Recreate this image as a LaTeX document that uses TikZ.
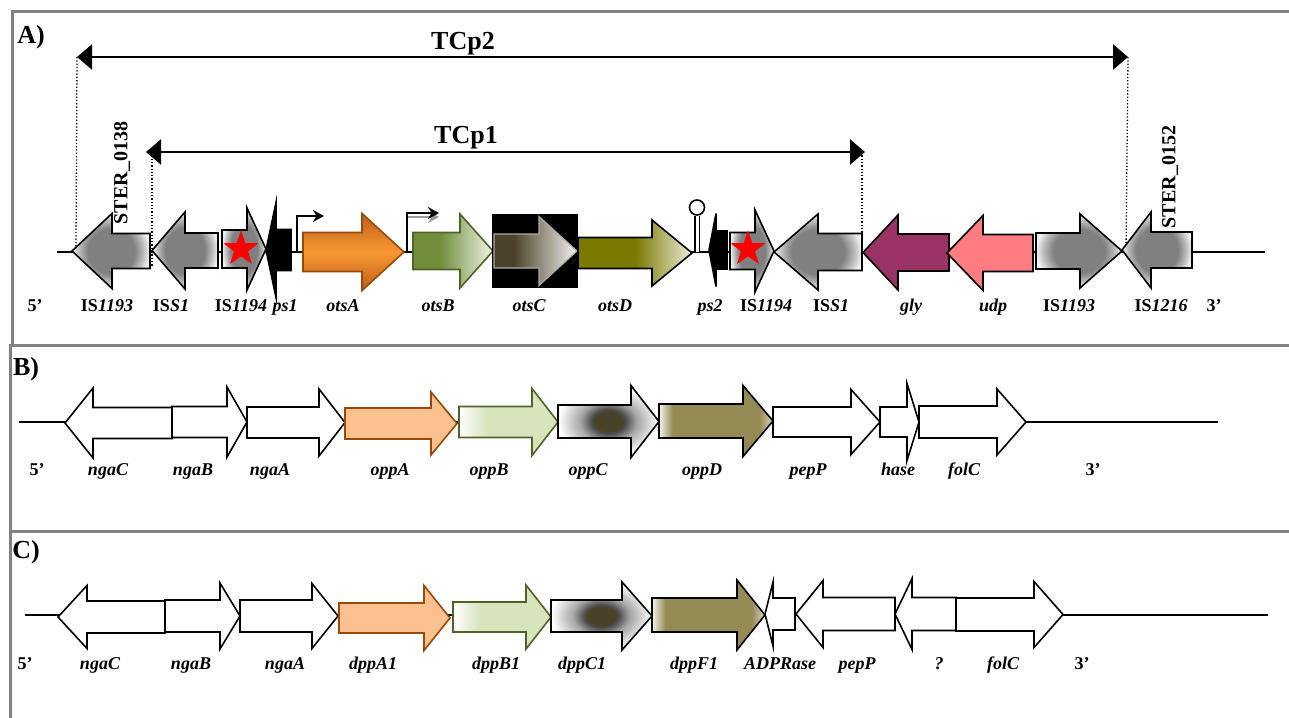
\documentclass[tikz,border=0pt]{standalone}
\usepackage{fontspec}
\setmainfont{Liberation Serif}
\usepackage{xcolor}
\definecolor{framegray}{RGB}{130,130,130}
\definecolor{isgray}{RGB}{128,128,128}
\definecolor{otsadark}{RGB}{190,95,22}
\definecolor{otsabright}{RGB}{248,152,50}
\definecolor{otsaborder}{RGB}{152,72,7}
\definecolor{otsbdark}{RGB}{112,142,58}
\definecolor{otsblight}{RGB}{240,244,232}
\definecolor{otsbborder}{RGB}{79,98,40}
\definecolor{otscdark}{RGB}{75,67,41}
\definecolor{otsclight}{RGB}{242,242,238}
\definecolor{otscborder}{RGB}{170,170,170}
\definecolor{otsdolive}{RGB}{122,122,0}
\definecolor{otsdlight}{RGB}{236,236,216}
\definecolor{glypurple}{RGB}{153,51,102}
\definecolor{udppink}{RGB}{255,124,128}
\definecolor{oppaorange}{RGB}{250,192,144}
\definecolor{oppbgreen}{RGB}{215,228,188}
\definecolor{oppccore}{RGB}{74,66,40}
\definecolor{oppdolive}{RGB}{148,138,84}
\usepackage{tikz}
\usetikzlibrary{arrows.meta,shapes.geometric}

% shadings for the gene arrows
\pgfdeclareradialshading{isshade}{\pgfpointorigin}{color(0bp)=(isgray); color(15bp)=(isgray); color(21bp)=(isgray!50!white); color(25bp)=(isgray!10!white); color(50bp)=(isgray!10!white)}
\pgfdeclareradialshading{oppcshade}{\pgfpointorigin}{color(0bp)=(oppccore); color(7bp)=(oppccore); color(8.5bp)=(isgray!60!black); color(14bp)=(isgray!70!white); color(25bp)=(white); color(50bp)=(white)}
\pgfdeclarehorizontalshading{otsbshade}{100bp}{color(0bp)=(otsbdark); color(42bp)=(otsbdark); color(75bp)=(otsblight); color(100bp)=(otsblight)}
\pgfdeclarehorizontalshading{otscshade}{100bp}{color(0bp)=(otscdark); color(37bp)=(otscdark); color(75bp)=(otsclight); color(100bp)=(otsclight)}
\pgfdeclarehorizontalshading{otsdshade}{100bp}{color(0bp)=(otsdolive); color(50bp)=(otsdolive); color(75bp)=(otsdlight); color(100bp)=(otsdlight)}
\pgfdeclarehorizontalshading{oppbshade}{100bp}{color(0bp)=(white); color(25bp)=(white); color(39bp)=(oppbgreen); color(100bp)=(oppbgreen)}
\pgfdeclarehorizontalshading{oppdshade}{100bp}{color(0bp)=(white); color(25bp)=(oppdolive!10!white); color(31bp)=(oppdolive); color(69bp)=(oppdolive); color(75bp)=(oppdolive!35!white); color(100bp)=(oppdolive!35!white)}

% gene arrow: tail x, head base x, tip x, centre y, half body, half head
\newcommand{\genearrow}[7][]{%
  \draw[gene,#1] (#2,#5-#6) -- (#3,#5-#6) -- (#3,#5-#7) -- (#4,#5) -- (#3,#5+#7) -- (#3,#5+#6) -- (#2,#5+#6) -- cycle;}

\begin{document}
\begin{tikzpicture}[x=1pt, y=-1pt,
  gene/.style={draw=black, line width=1.6pt, line join=miter},
  lbl/.style={font=\fontsize{18}{20}\selectfont\bfseries\itshape, anchor=base, inner sep=0pt},
  title/.style={font=\fontsize{26}{28}\selectfont\bfseries, inner sep=0pt},
  ster/.style={font=\fontsize{20}{22}\selectfont\bfseries, rotate=90, inner sep=0pt},
  panel/.style={draw=framegray, line width=3pt},
  backbone/.style={line width=2pt},
  span/.style={line width=2.2pt, {Triangle[length=15pt,width=25pt]}-{Triangle[length=15pt,width=25pt]}},
  guide/.style={dotted, line width=1.3pt},
  prom/.style={line width=2pt, -{Stealth[length=11pt,width=12pt]}},
  redstar/.style={star, star points=5, star point ratio=2.5, fill=red, minimum size=37pt, inner sep=0pt}]
  \useasboundingbox (0,0) rectangle (1289,717);

  % Frames
  \draw[panel] (12,345) -- (12,12) -- (1300,12);
  \draw[panel] (1300,345) -- (10,345) -- (10,531) -- (1300,531);
  \draw[panel] (10,531) -- (10,720);

  % Panel A
  \node[title] (ttlA) at (31,37) {A)};
  \draw[backbone] (57,252) -- (1265,252);

  \coordinate (tcp2L) at (77,57);
  \coordinate (tcp2R) at (1128,57);
  \coordinate (tcp1L) at (146,152);
  \coordinate (tcp1R) at (865,152);
  \draw[span] (tcp2L) -- (tcp2R);
  \draw[span] (tcp1L) -- (tcp1R);
  \node[title] (tcp2) at (463,44) {TCp2};
  \node[title] (tcp1) at (466,138) {TCp1};
  \coordinate (g2L) at (76,248);
  \coordinate (g2R) at (1126,250);
  \coordinate (g1L) at (152,267);
  \coordinate (g1R) at (862,233);
  \draw[guide] (tcp2L) -- (g2L);
  \draw[guide] (tcp2R) -- (g2R);
  \draw[guide] ([xshift=6pt]tcp1L) -- (g1L);
  \draw[guide] ([xshift=-3pt]tcp1R) -- (g1R);

  \genearrow[shade, shading=isshade]{150}{112}{72}{251}{17.5}{37.5}
  \genearrow[shade, shading=isshade]{218}{185}{152}{250.5}{17.5}{38.5}
  \genearrow[shade, shading=isshade]{222}{247}{266}{249}{19}{41}
  \node[redstar] (star1) at (241,249) {};
  \genearrow[fill=black]{291}{276}{266}{250}{20.5}{47.5}
  \genearrow[draw=otsaborder, shade, top color=otsadark, bottom color=otsadark, middle color=otsabright]{303}{362}{404}{252}{19.5}{38.5}
  \genearrow[draw=otsbborder, shade, shading=otsbshade]{413}{460}{493}{251}{18.5}{37}
  \fill[black] (492,214) rectangle (578,288);
  \genearrow[draw=otscborder, line width=1.2pt, shade, shading=otscshade]{494}{539}{577}{251}{17}{34.5}
  \genearrow[shade, shading=otsdshade]{578}{652}{692}{253}{15.5}{33}
  \genearrow[fill=black]{727}{716}{709}{250}{19}{36.5}
  \genearrow[shade, shading=isshade]{730}{755}{774}{251}{18.5}{41}
  \node[redstar] (star2) at (748,249) {};
  \genearrow[shade, shading=isshade]{862}{818}{774}{252}{18.5}{38}
  \genearrow[fill=glypurple]{949}{898}{863}{252.5}{18.5}{37.5}
  \genearrow[fill=udppink]{1033}{983}{947}{253}{18.5}{37.5}
  \genearrow[shade, shading=isshade]{1036}{1080}{1122}{251}{18}{37}
  \genearrow[shade, shading=isshade]{1192}{1151}{1122}{250}{18}{38}

  % promoters and terminator
  \coordinate (p1a) at (297,252);
  \coordinate (p1b) at (324,216);
  \draw[prom] (p1a) |- (p1b);
  \coordinate (p2a) at (407,252);
  \coordinate (p2b) at (439,213);
  \draw[prom, isgray!80] ([yshift=-4pt]407,213) -- ([yshift=-4pt]p2b);
  \draw[prom] (p2a) |- (p2b);
  \coordinate (stem) at (697,252);
  \node[circle, draw, line width=1.6pt, fill=white, minimum size=15pt, inner sep=0pt] (hairpin) at (697,207.5) {};
  \draw[double, double distance=3pt, line width=1.3pt] (stem) -- (hairpin.south);

  \node[ster] (ster138) at (122,173) {STER\_0138};
  \node[ster] (ster152) at (1170,177) {STER\_0152};

  \node[lbl] (a5) at (35,311) {\textup{5’}};
  \node[lbl] (a1) at (107,311) {\textup{IS}1193};
  \node[lbl] (a2) at (171,311) {\textup{IS}S1};
  \node[lbl] (a3) at (241,311) {\textup{IS}1194};
  \node[lbl] (a4) at (285,311) {ps1};
  \node[lbl] (a6) at (343,311) {otsA};
  \node[lbl] (a7) at (438,311) {otsB};
  \node[lbl] (a8) at (529,311) {otsC};
  \node[lbl] (a9) at (615,311) {otsD};
  \node[lbl] (a10) at (710,311) {ps2};
  \node[lbl] (a11) at (766,311) {\textup{IS}1194};
  \node[lbl] (a12) at (831,311) {\textup{IS}S1};
  \node[lbl] (a13) at (911,311) {gly};
  \node[lbl] (a14) at (993,311) {udp};
  \node[lbl] (a15) at (1069,311) {\textup{IS}1193};
  \node[lbl] (a16) at (1161,311) {\textup{IS}1216};
  \node[lbl] (a3p) at (1214,311) {\textup{3’}};

  % Panel B
  \node[title] (ttlB) at (26,369) {B)};
  \draw[backbone] (19,422) -- (1218,422);
  \genearrow[fill=white]{172}{93}{65}{423}{15.5}{35}
  \genearrow[fill=white]{172}{227}{247}{422}{15.5}{35}
  \genearrow[fill=white]{247}{319}{345}{422.5}{15.5}{33.5}
  \genearrow[draw=otsaborder, fill=oppaorange]{345}{431}{457}{423.5}{15.5}{31.5}
  \genearrow[draw=otsbborder, shade, shading=oppbshade]{459}{532}{558}{422}{15.5}{33.5}
  \genearrow[shade, shading=oppcshade]{558}{631}{659}{421.5}{16.5}{36}
  \genearrow[shade, shading=oppdshade]{659}{743}{773}{421}{17}{35.5}
  \genearrow[fill=white]{773}{851}{880}{422}{15}{32.5}
  \genearrow[fill=white]{880}{907}{919}{422}{15}{38.5}
  \genearrow[fill=white]{919}{997}{1026}{422}{16}{33}

  \node[lbl] (b5) at (37,475) {\textup{5’}};
  \node[lbl] (b1) at (108,475) {ngaC};
  \node[lbl] (b2) at (193,475) {ngaB};
  \node[lbl] (b3) at (270,475) {ngaA};
  \node[lbl] (b4) at (390,475) {oppA};
  \node[lbl] (b6) at (489,475) {oppB};
  \node[lbl] (b7) at (588,475) {oppC};
  \node[lbl] (b8) at (702,475) {oppD};
  \node[lbl] (b9) at (808,475) {pepP};
  \node[lbl] (b10) at (898,475) {hase};
  \node[lbl] (b11) at (964,475) {folC};
  \node[lbl] (b3p) at (1093,475) {\textup{3’}};

  % Panel C
  \node[title] (ttlC) at (26,552) {C)};
  \draw[backbone] (25,615) -- (1268,615);
  \genearrow[fill=white]{165}{87}{58}{617}{16}{31.5}
  \genearrow[fill=white]{165}{220}{240}{616}{16}{33}
  \genearrow[fill=white]{240}{312}{338}{616}{16}{32.5}
  \genearrow[draw=otsaborder, fill=oppaorange]{339}{424}{450}{618}{15}{32.5}
  \genearrow[draw=otsbborder, shade, shading=oppbshade]{453}{526}{551}{617}{15}{32}
  \genearrow[shade, shading=oppcshade]{551}{622}{652}{616}{16}{34}
  \genearrow[shade, shading=oppdshade]{652}{737}{765}{615}{17}{35}
  \genearrow[fill=white]{795}{773}{765}{614}{16}{32}
  \genearrow[fill=white]{895}{823}{796}{614}{16.5}{33.5}
  \genearrow[fill=white]{956}{912}{895}{614}{16.5}{35.5}
  \genearrow[fill=white]{956}{1034}{1063}{614.5}{16.5}{33}

  \node[lbl] (c5) at (25,669) {\textup{5’}};
  \node[lbl] (c1) at (100,669) {ngaC};
  \node[lbl] (c2) at (191,669) {ngaB};
  \node[lbl] (c3) at (285,669) {ngaA};
  \node[lbl] (c4) at (373,669) {dppA1};
  \node[lbl] (c6) at (496,669) {dppB1};
  \node[lbl] (c7) at (582,669) {dppC1};
  \node[lbl] (c8) at (694,669) {dppF1};
  \node[lbl] (c9) at (780,669) {ADPRase};
  \node[lbl] (c10) at (857,669) {pepP};
  \node[lbl] (c11) at (939,669) {?};
  \node[lbl] (c12) at (1003,669) {folC};
  \node[lbl] (c3p) at (1082,669) {\textup{3’}};
\end{tikzpicture}
\end{document}
